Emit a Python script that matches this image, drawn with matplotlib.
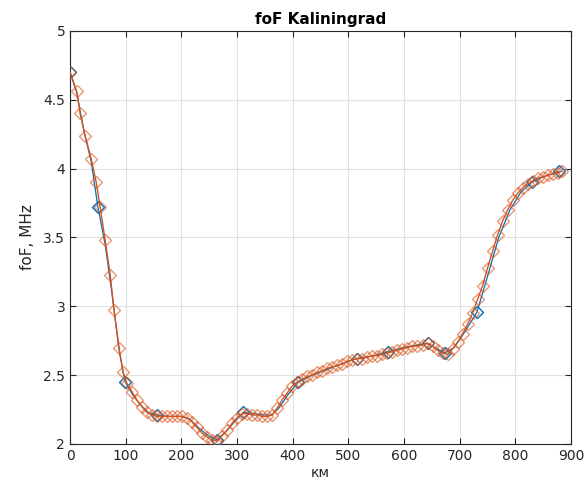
import matplotlib
matplotlib.use("Agg")
import matplotlib.pyplot as plt

title = "foF Kaliningrad"
xlabel = "км"
ylabel = "foF, MHz"

# blue series: markers at measured points
blue_km = [0, 50, 99, 156, 264, 311, 410, 515, 571, 643, 673, 731, 829, 878]
blue_fof = [4.70, 3.72, 2.45, 2.21, 2.03, 2.23, 2.45, 2.62, 2.67, 2.73, 2.66, 2.96, 3.90, 3.98]

# blue series: line trace
blue_line_km = [0, 12, 25, 38, 50, 63, 75, 88, 99, 112, 125, 140, 156, 175, 200, 215,
                230, 248, 264, 280, 295, 311, 330, 350, 362, 375, 390, 410, 430, 455,
                480, 515, 545, 571, 600, 625, 643, 660, 673, 690, 710, 731, 750, 770,
                790, 810, 829, 850, 878]
blue_line_fof = [4.70, 4.55, 4.27, 4.05, 3.72, 3.45, 3.10, 2.68, 2.45, 2.36, 2.29, 2.23,
                 2.21, 2.20, 2.20, 2.18, 2.12, 2.06, 2.03, 2.09, 2.16, 2.23, 2.22, 2.21,
                 2.21, 2.26, 2.35, 2.45, 2.49, 2.53, 2.57, 2.62, 2.64, 2.67, 2.70, 2.72,
                 2.73, 2.69, 2.66, 2.70, 2.82, 2.96, 3.22, 3.50, 3.70, 3.83, 3.90, 3.94, 3.98]

# dense series (orange)
orange_km = [0, 12, 18, 27, 38, 47, 54, 63, 72, 79, 88, 95, 102, 111, 120, 129, 138, 147,
             156, 165, 174, 183, 192, 201, 210, 219, 228, 237, 246, 255, 264, 273, 282,
             291, 300, 309, 318, 327, 336, 345, 354, 363, 372, 381, 390, 399, 408, 417,
             426, 435, 444, 453, 462, 471, 480, 489, 498, 507, 516, 525, 534, 543, 552,
             561, 570, 579, 588, 597, 606, 615, 624, 633, 642, 651, 660, 669, 678, 687,
             696, 705, 714, 723, 732, 741, 750, 759, 768, 777, 786, 795, 804, 813, 822,
             831, 840, 849, 858, 867, 876, 883]
orange_fof = [4.70, 4.56, 4.40, 4.24, 4.07, 3.90, 3.72, 3.48, 3.23, 2.97, 2.70, 2.52, 2.44,
              2.38, 2.32, 2.27, 2.23, 2.21, 2.20, 2.20, 2.20, 2.20, 2.20, 2.20, 2.19, 2.16,
              2.12, 2.08, 2.05, 2.03, 2.02, 2.06, 2.10, 2.15, 2.19, 2.22, 2.22, 2.21, 2.21,
              2.20, 2.20, 2.21, 2.26, 2.32, 2.37, 2.42, 2.45, 2.47, 2.49, 2.50, 2.52, 2.53,
              2.55, 2.56, 2.57, 2.58, 2.60, 2.61, 2.62, 2.62, 2.63, 2.64, 2.64, 2.65, 2.66,
              2.67, 2.68, 2.69, 2.70, 2.71, 2.71, 2.72, 2.73, 2.71, 2.68, 2.66, 2.65, 2.69,
              2.74, 2.80, 2.87, 2.95, 3.05, 3.15, 3.28, 3.40, 3.52, 3.62, 3.70, 3.77, 3.82,
              3.86, 3.89, 3.91, 3.93, 3.94, 3.95, 3.96, 3.97, 3.98]

xticks = [0, 100, 200, 300, 400, 500, 600, 700, 800, 900]
yticks = [2, 2.5, 3, 3.5, 4, 4.5, 5]
yticklabels = ["2", "2.5", "3", "3.5", "4", "4.5", "5"]

blue = "#0072BD"
orange = "#D95319"
tick_col = "#262626"

plt.rcParams['font.family'] = ['DejaVu Sans']
fig = plt.figure(figsize=(5.84, 4.90), dpi=100)
ax = fig.add_axes([0.12, 0.094, 0.858, 0.843])

ax.plot(blue_line_km, blue_line_fof, '-', color=blue, lw=0.9, zorder=3)
ax.plot(blue_km, blue_fof, linestyle='none', marker='D', ms=6.5,
        mfc='none', mec=blue, mew=1.0, zorder=3)
ax.plot(orange_km, orange_fof, '-', color=orange, lw=1.0, marker='D', ms=6.5,
        mfc='none', mec=(0.85, 0.325, 0.098, 0.6), mew=1.0, zorder=4)

ax.set_xlim(0, 900)
ax.set_ylim(2, 5)
ax.set_xticks(xticks)
ax.set_yticks(yticks)
ax.set_yticklabels(yticklabels)
ax.grid(True, color='#e0e0e0', lw=0.8)
ax.set_axisbelow(True)
ax.tick_params(direction='in', top=True, right=True, length=4, colors=tick_col,
               labelsize=10, width=0.8)
for s in ax.spines.values():
    s.set_color(tick_col)
    s.set_linewidth(0.8)

ax.set_title(title, fontsize=11, fontweight='bold', color='black', pad=5)
ax.set_xlabel(xlabel, fontsize=10, color=tick_col, labelpad=2)
ax.set_ylabel(ylabel, fontsize=11, color=tick_col, labelpad=6)

fig.savefig("out.png", dpi=100)
